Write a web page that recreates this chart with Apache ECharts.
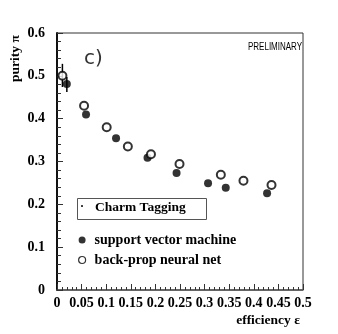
<!DOCTYPE html>
<html>
<head>
<meta charset="utf-8">
<script src="https://cdn.jsdelivr.net/npm/echarts@6/dist/echarts.min.js"></script>
<style>
  html, body { margin: 0; padding: 0; background: #fff; }
</style>
</head>
<body>
<div id="chart" style="width: 338px; height: 334px"></div>
<script>
// support vector machine (filled)
var svmEff = [0.020, 0.059, 0.120, 0.184, 0.243, 0.307, 0.343, 0.427]
var svmPur = [0.481, 0.410, 0.354, 0.309, 0.273, 0.249, 0.239, 0.226]
// back-prop neural net (open)
var nnEff = [0.011, 0.055, 0.101, 0.144, 0.191, 0.249, 0.333, 0.379, 0.436]
var nnPur = [0.500, 0.430, 0.380, 0.335, 0.317, 0.294, 0.269, 0.255, 0.245]
// error bars [efficiency, low, high]
var errBars = [[0.011, 0.474, 0.528], [0.020, 0.462, 0.497]]

var serif = 'Liberation Serif'
function pairs(xs, ys) {
  return xs.map(function (x, i) { return [x, ys[i]] })
}

var chart = echarts.init(document.getElementById('chart'))
chart.setOption({
  animation: false,
  grid: {
    left: 57, right: 35, top: 33, bottom: 44,
    show: true,
    borderColor: '#333',
    borderWidth: 1
  },
  xAxis: {
    type: 'value',
    min: 0, max: 0.5, interval: 0.05,
    axisLine: { lineStyle: { color: '#555', width: 1.5 } },
    axisTick: { inside: true, length: 6, lineStyle: { color: '#333' } },
    minorTick: { show: true, splitNumber: 5, length: 3, lineStyle: { color: '#333' } },
    splitLine: { show: false },
    axisLabel: {
      color: '#000', fontFamily: serif, fontWeight: 'bold', fontSize: 14, margin: 6
    },
    name: 'efficiency ε',
    nameLocation: 'end',
    nameGap: 0,
    nameTextStyle: {
      color: '#000', fontFamily: serif, fontWeight: 'bold', fontSize: 13.5,
      align: 'right', verticalAlign: 'top', padding: [24, 3, 0, 0]
    }
  },
  yAxis: {
    type: 'value',
    min: 0, max: 0.6, interval: 0.1,
    axisLine: { lineStyle: { color: '#111', width: 2 } },
    axisTick: { inside: true, length: 6, lineStyle: { color: '#333' } },
    minorTick: { show: true, splitNumber: 5, length: 4, lineStyle: { color: '#333' } },
    splitLine: { show: false },
    axisLabel: {
      color: '#000', fontFamily: serif, fontWeight: 'bold', fontSize: 14, margin: 12
    }
  },
  legend: {
    orient: 'vertical',
    left: 78, top: 233,
    padding: 0,
    itemGap: 6,
    itemWidth: 9, itemHeight: 7,
    textStyle: {
      color: '#000', fontFamily: serif, fontWeight: 'bold', fontSize: 14,
      padding: [0, 0, 0, 3]
    },
    data: [
      { name: 'support vector machine', icon: 'circle' },
      { name: 'back-prop neural net', icon: 'circle', itemStyle: { borderWidth: 1.2 } }
    ]
  },
  graphic: [
    {
      type: 'text', x: 9, y: 82, rotation: Math.PI / 2,
      style: { text: 'purity π', fill: '#000', font: 'bold 13.5px "Liberation Serif"' }
    },
    {
      type: 'rect', left: 77, top: 198,
      shape: { width: 129, height: 21 },
      style: { fill: '#fff', stroke: '#555', lineWidth: 1 }
    },
    {
      type: 'text', left: 80, top: 201,
      style: { text: '·', fill: '#000', font: 'bold 12px "Liberation Serif"' }
    },
    {
      type: 'text', left: 95, top: 201,
      style: { text: 'Charm Tagging', fill: '#000', font: 'bold 13.5px "Liberation Serif"' }
    },
    {
      type: 'text', left: 84, top: 49,
      style: { text: 'c)', fill: '#333', font: '20px "DejaVu Sans"' }
    },
    {
      type: 'text', x: 248, y: 42, scaleX: 0.8,
      style: { text: 'PRELIMINARY', fill: '#000', font: '10px "Liberation Sans"' }
    }
  ],
  series: [
    {
      type: 'custom',
      silent: true,
      renderItem: function (params, api) {
        var top = api.coord([api.value(0), api.value(2)])
        var bot = api.coord([api.value(0), api.value(1)])
        return {
          type: 'line',
          shape: { x1: top[0], y1: top[1], x2: bot[0], y2: bot[1] },
          style: { stroke: '#000', lineWidth: 1.5 }
        }
      },
      data: errBars,
      z: 1
    },
    {
      name: 'support vector machine',
      type: 'scatter',
      symbol: 'circle',
      symbolSize: 8,
      itemStyle: { color: '#000' },
      data: pairs(svmEff, svmPur),
      z: 2
    },
    {
      name: 'back-prop neural net',
      type: 'scatter',
      symbol: 'circle',
      symbolSize: 8,
      itemStyle: { color: '#fff', borderColor: '#000', borderWidth: 2 },
      data: pairs(nnEff, nnPur),
      z: 3
    }
  ]
})
</script>
</body>
</html>
